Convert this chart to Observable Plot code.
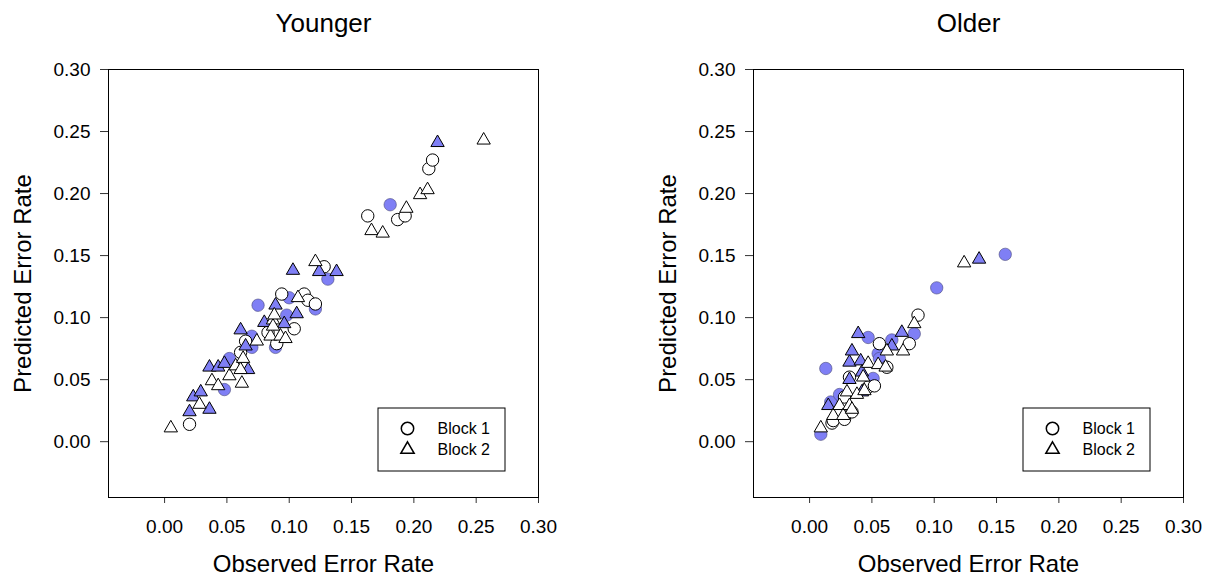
<!DOCTYPE html>
<html><head><meta charset="utf-8">
<script src="https://cdn.jsdelivr.net/npm/d3@7"></script>
<script src="https://cdn.jsdelivr.net/npm/@observablehq/plot@0.6"></script>
<style>
html,body{margin:0;padding:0;background:#fff;}
#wrap{position:relative;width:1215px;height:583px;overflow:hidden;}
#wrap svg{position:absolute;}
</style></head><body><div id="wrap"></div>
<script>
// ---- data: [observed, predicted] pairs ----
const panelTitles = ["Younger", "Older"];
const xTitle = "Observed Error Rate";
const yTitle = "Predicted Error Rate";
const legendLabels = ["Block 1", "Block 2"];
const tickValues = [0, 0.05, 0.10, 0.15, 0.20, 0.25, 0.30];

// Younger, Block 1 (circles)
const youngerBlock1Open = [[0.020,0.014],[0.061,0.072],[0.065,0.081],[0.083,0.088],[0.090,0.079],[0.094,0.119],[0.104,0.091],[0.112,0.119],[0.115,0.114],[0.121,0.111],[0.128,0.141],[0.163,0.182],[0.187,0.179],[0.193,0.182],[0.212,0.220],[0.215,0.227]];
const youngerBlock1Filled = [[0.048,0.042],[0.052,0.067],[0.070,0.076],[0.070,0.085],[0.075,0.110],[0.089,0.076],[0.098,0.102],[0.100,0.116],[0.121,0.107],[0.131,0.131],[0.181,0.191]];
// Younger, Block 2 (triangles)
const youngerBlock2Open = [[0.005,0.011],[0.028,0.030],[0.038,0.049],[0.043,0.045],[0.052,0.053],[0.057,0.061],[0.061,0.058],[0.062,0.047],[0.063,0.067],[0.074,0.081],[0.085,0.085],[0.087,0.098],[0.087,0.093],[0.088,0.102],[0.093,0.085],[0.097,0.083],[0.107,0.116],[0.121,0.145],[0.166,0.170],[0.175,0.168],[0.194,0.188],[0.205,0.199],[0.211,0.203],[0.256,0.243]];
const youngerBlock2Filled = [[0.020,0.024],[0.023,0.036],[0.029,0.040],[0.036,0.026],[0.036,0.060],[0.043,0.060],[0.048,0.063],[0.061,0.090],[0.065,0.077],[0.067,0.058],[0.080,0.096],[0.089,0.110],[0.096,0.095],[0.103,0.138],[0.106,0.103],[0.124,0.137],[0.138,0.137],[0.219,0.241]];

// Older, Block 1 (circles)
const olderBlock1Open = [[0.018,0.015],[0.019,0.017],[0.028,0.018],[0.034,0.024],[0.028,0.036],[0.032,0.052],[0.047,0.044],[0.052,0.045],[0.056,0.079],[0.062,0.060],[0.080,0.079],[0.087,0.102]];
const olderBlock1Filled = [[0.009,0.006],[0.013,0.059],[0.017,0.032],[0.024,0.038],[0.047,0.084],[0.051,0.051],[0.055,0.071],[0.056,0.067],[0.066,0.082],[0.084,0.087],[0.102,0.124],[0.157,0.151]];
// Older, Block 2 (triangles)
const olderBlock2Open = [[0.009,0.011],[0.019,0.021],[0.024,0.029],[0.027,0.021],[0.030,0.040],[0.032,0.029],[0.034,0.026],[0.038,0.038],[0.043,0.052],[0.044,0.041],[0.047,0.063],[0.055,0.062],[0.061,0.060],[0.062,0.073],[0.075,0.073],[0.084,0.095],[0.124,0.144]];
const olderBlock2Filled = [[0.015,0.029],[0.032,0.050],[0.032,0.064],[0.034,0.073],[0.039,0.087],[0.041,0.065],[0.042,0.056],[0.042,0.040],[0.066,0.077],[0.074,0.088],[0.136,0.147]];

// ---- style ----
const FONT = "'Liberation Sans', Arial, Helvetica, sans-serif";
const BLUE = "#7f7ff5";
const RC = 6.2, RT = 4.95;
const fmt = d3.format(".2f");
const wrap = document.getElementById("wrap");

function panel(title, b1Open, b1Filled, b2Open, b2Filled, width, marginRight) {
  const acc = {x: d => d[0], y: d => d[1]};
  return Plot.plot({
    width, height: 583,
    marginLeft: 108, marginRight, marginTop: 69, marginBottom: 86,
    x: {domain: [-0.045, 0.30]},
    y: {domain: [-0.045, 0.30]},
    style: {fontFamily: FONT, color: "black", background: "transparent", overflow: "visible"},
    marks: [
      Plot.axisX({ticks: tickValues, tickFormat: fmt, tickSize: 6, tickPadding: 16, fontSize: 19, label: null, stroke: "#333"}),
      Plot.axisY({ticks: tickValues, tickFormat: fmt, tickSize: 8, tickPadding: 10, fontSize: 19, label: null, stroke: "#333"}),
      Plot.frame({stroke: "black", strokeWidth: 1}),
      Plot.dot(b1Filled, {...acc, symbol: "circle", r: RC, fill: BLUE, stroke: "#4a4a7a", strokeWidth: 0.6}),
      Plot.dot(b1Open, {...acc, symbol: "circle", r: RC, fill: "white", stroke: "black", strokeWidth: 1}),
      Plot.dot(b2Filled, {...acc, symbol: "triangle", r: RT, fill: BLUE, stroke: "black", strokeWidth: 1}),
      Plot.dot(b2Open, {...acc, symbol: "triangle", r: RT, fill: "white", stroke: "black", strokeWidth: 1}),
      Plot.text([title], {text: d => d, frameAnchor: "top", dy: -46, textAnchor: "middle", lineAnchor: "middle", fontSize: 26}),
      Plot.text([yTitle], {text: d => d, frameAnchor: "left", dx: -85, rotate: -90, textAnchor: "middle", lineAnchor: "middle", fontSize: 24}),
      Plot.text([xTitle], {text: d => d, frameAnchor: "bottom", dy: 67, textAnchor: "middle", lineAnchor: "middle", fontSize: 24})
    ]
  });
}

function legend() {
  const pos = d => legendLabels.indexOf(d);
  return Plot.plot({
    width: 128, height: 64, margin: 0,
    y: {domain: [0, 1], range: [21, 42], axis: null},
    style: {fontFamily: FONT, color: "black", background: "white", overflow: "visible"},
    marks: [
      Plot.frame({inset: 0.5, stroke: "black", strokeWidth: 1, fill: "white"}),
      Plot.dot([legendLabels[0]], {y: pos, frameAnchor: "left", dx: 30, symbol: "circle", r: RC, fill: "white", stroke: "black"}),
      Plot.dot([legendLabels[1]], {y: pos, frameAnchor: "left", dx: 30, symbol: "triangle", r: RT, fill: "white", stroke: "black"}),
      Plot.text(legendLabels, {text: d => d, y: pos, frameAnchor: "left", dx: 60, textAnchor: "start", lineAnchor: "middle", fontSize: 16})
    ]
  });
}

const left = panel(panelTitles[0], youngerBlock1Open, youngerBlock1Filled, youngerBlock2Open, youngerBlock2Filled, 645, 107);
left.style.left = "0px"; left.style.top = "0px";
wrap.appendChild(left);

const right = panel(panelTitles[1], olderBlock1Open, olderBlock1Filled, olderBlock2Open, olderBlock2Filled, 570, 32);
right.style.left = "645px"; right.style.top = "0px";
wrap.appendChild(right);

const lg1 = legend(); lg1.style.left = "377px"; lg1.style.top = "407px"; wrap.appendChild(lg1);
const lg2 = legend(); lg2.style.left = "1022px"; lg2.style.top = "407px"; wrap.appendChild(lg2);
</script></body></html>
